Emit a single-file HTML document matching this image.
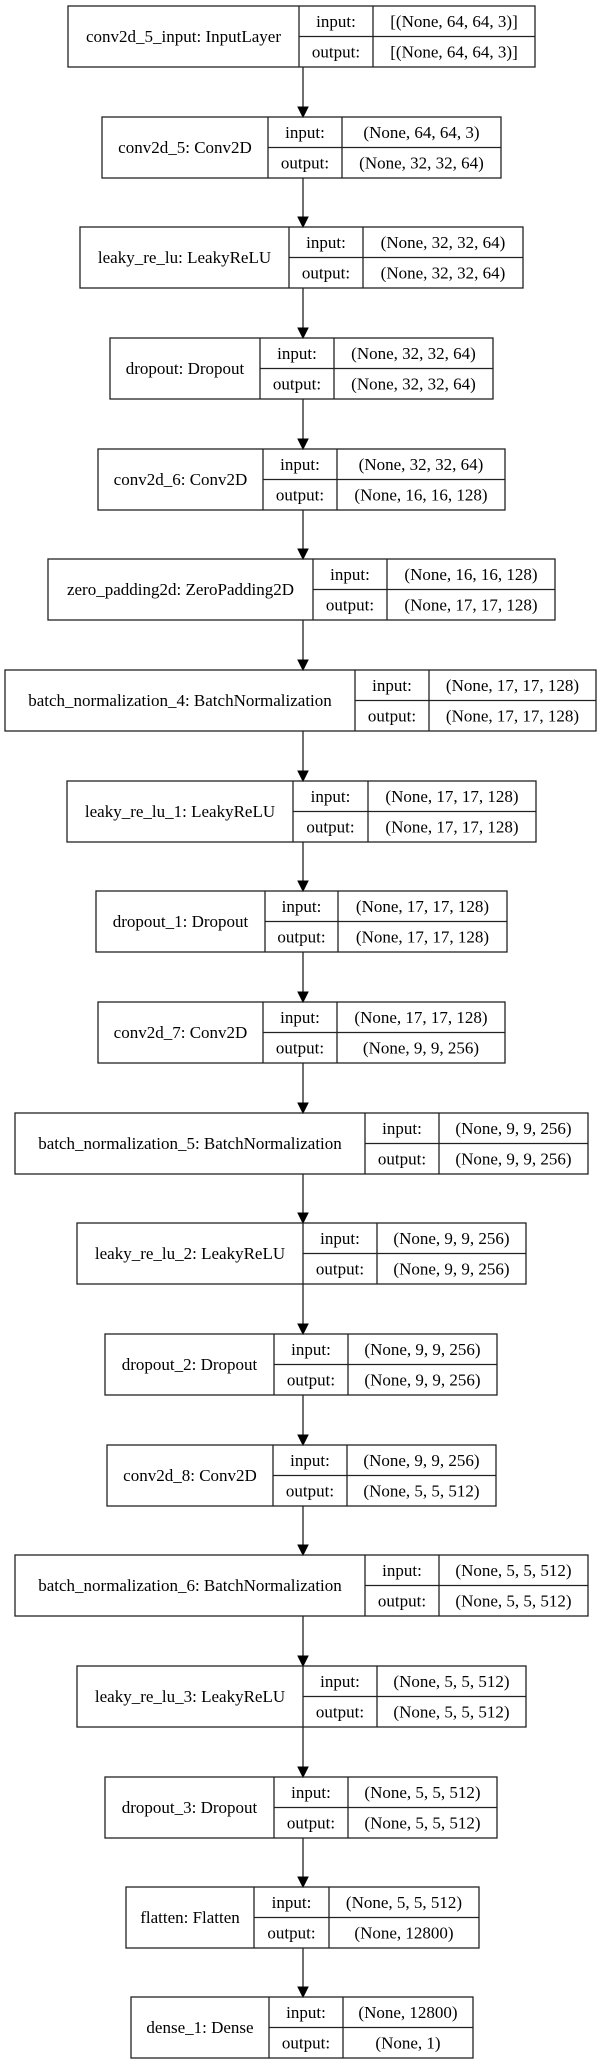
<!DOCTYPE html>
<html><head><meta charset="utf-8"><style>
html,body{margin:0;padding:0;background:#fff;}
svg{display:block}
text{font-family:"Liberation Serif",serif;font-size:17px;fill:#000;text-anchor:middle}
rect,line{stroke:#222;stroke-width:1.3;fill:none}
polygon{fill:#000;stroke:#000;stroke-width:1}
</style></head><body>
<svg width="597" height="2065" viewBox="0 0 597 2065" xmlns="http://www.w3.org/2000/svg">
<rect x="0" y="0" width="597" height="2065" style="fill:#fff;stroke:none"/>

<g>
<line x1="303" y1="67" x2="303" y2="108"/><polygon points="298,107 308,107 303,117"/>
<line x1="303" y1="178" x2="303" y2="218"/><polygon points="298,217 308,217 303,227"/>
<line x1="303" y1="288" x2="303" y2="329"/><polygon points="298,328 308,328 303,338"/>
<line x1="303" y1="399" x2="303" y2="440"/><polygon points="298,439 308,439 303,449"/>
<line x1="303" y1="510" x2="303" y2="550"/><polygon points="298,549 308,549 303,559"/>
<line x1="303" y1="620" x2="303" y2="661"/><polygon points="298,660 308,660 303,670"/>
<line x1="303" y1="731" x2="303" y2="772"/><polygon points="298,771 308,771 303,781"/>
<line x1="303" y1="842" x2="303" y2="882"/><polygon points="298,881 308,881 303,891"/>
<line x1="303" y1="952" x2="303" y2="993"/><polygon points="298,992 308,992 303,1002"/>
<line x1="303" y1="1063" x2="303" y2="1104"/><polygon points="298,1103 308,1103 303,1113"/>
<line x1="303" y1="1174" x2="303" y2="1214"/><polygon points="298,1213 308,1213 303,1223"/>
<line x1="303" y1="1284" x2="303" y2="1325"/><polygon points="298,1324 308,1324 303,1334"/>
<line x1="303" y1="1395" x2="303" y2="1436"/><polygon points="298,1435 308,1435 303,1445"/>
<line x1="303" y1="1506" x2="303" y2="1546"/><polygon points="298,1545 308,1545 303,1555"/>
<line x1="303" y1="1616" x2="303" y2="1657"/><polygon points="298,1656 308,1656 303,1666"/>
<line x1="303" y1="1727" x2="303" y2="1768"/><polygon points="298,1767 308,1767 303,1777"/>
<line x1="303" y1="1838" x2="303" y2="1878"/><polygon points="298,1877 308,1877 303,1887"/>
<line x1="303" y1="1948" x2="303" y2="1988"/><polygon points="298,1987 308,1987 303,1997"/>
</g>

<g transform="translate(0,6)">
<rect x="68" y="0" width="467" height="61"/><line x1="299" y1="0" x2="299" y2="61"/><line x1="373" y1="0" x2="373" y2="61"/><line x1="299" y1="30.5" x2="535" y2="30.5"/>
<text x="183.5" y="36">conv2d_5_input: InputLayer</text><text x="336" y="21">input:</text><text x="336" y="51.5">output:</text>
<text x="454" y="21">[(None, 64, 64, 3)]</text><text x="454" y="51.5">[(None, 64, 64, 3)]</text></g>

<g transform="translate(0,117)">
<rect x="102" y="0" width="399" height="61"/><line x1="268" y1="0" x2="268" y2="61"/><line x1="342" y1="0" x2="342" y2="61"/><line x1="268" y1="30.5" x2="501" y2="30.5"/>
<text x="185" y="36">conv2d_5: Conv2D</text><text x="305" y="21">input:</text><text x="305" y="51.5">output:</text>
<text x="421.5" y="21">(None, 64, 64, 3)</text><text x="421.5" y="51.5">(None, 32, 32, 64)</text></g>

<g transform="translate(0,227)">
<rect x="80" y="0" width="443" height="61"/><line x1="289" y1="0" x2="289" y2="61"/><line x1="363" y1="0" x2="363" y2="61"/><line x1="289" y1="30.5" x2="523" y2="30.5"/>
<text x="184.5" y="36">leaky_re_lu: LeakyReLU</text><text x="326" y="21">input:</text><text x="326" y="51.5">output:</text>
<text x="443" y="21">(None, 32, 32, 64)</text><text x="443" y="51.5">(None, 32, 32, 64)</text></g>

<g transform="translate(0,338)">
<rect x="110" y="0" width="383" height="61"/><line x1="260" y1="0" x2="260" y2="61"/><line x1="334" y1="0" x2="334" y2="61"/><line x1="260" y1="30.5" x2="493" y2="30.5"/>
<text x="185" y="36">dropout: Dropout</text><text x="297" y="21">input:</text><text x="297" y="51.5">output:</text>
<text x="413.5" y="21">(None, 32, 32, 64)</text><text x="413.5" y="51.5">(None, 32, 32, 64)</text></g>

<g transform="translate(0,449)">
<rect x="98" y="0" width="407" height="61"/><line x1="263" y1="0" x2="263" y2="61"/><line x1="337" y1="0" x2="337" y2="61"/><line x1="263" y1="30.5" x2="505" y2="30.5"/>
<text x="180.5" y="36">conv2d_6: Conv2D</text><text x="300" y="21">input:</text><text x="300" y="51.5">output:</text>
<text x="421" y="21">(None, 32, 32, 64)</text><text x="421" y="51.5">(None, 16, 16, 128)</text></g>

<g transform="translate(0,559)">
<rect x="48" y="0" width="507" height="61"/><line x1="313" y1="0" x2="313" y2="61"/><line x1="387" y1="0" x2="387" y2="61"/><line x1="313" y1="30.5" x2="555" y2="30.5"/>
<text x="180.5" y="36">zero_padding2d: ZeroPadding2D</text><text x="350" y="21">input:</text><text x="350" y="51.5">output:</text>
<text x="471" y="21">(None, 16, 16, 128)</text><text x="471" y="51.5">(None, 17, 17, 128)</text></g>

<g transform="translate(0,670)">
<rect x="5" y="0" width="591" height="61"/><line x1="355" y1="0" x2="355" y2="61"/><line x1="429" y1="0" x2="429" y2="61"/><line x1="355" y1="30.5" x2="596" y2="30.5"/>
<text x="180" y="36">batch_normalization_4: BatchNormalization</text><text x="392" y="21">input:</text><text x="392" y="51.5">output:</text>
<text x="512.5" y="21">(None, 17, 17, 128)</text><text x="512.5" y="51.5">(None, 17, 17, 128)</text></g>

<g transform="translate(0,781)">
<rect x="67" y="0" width="469" height="61"/><line x1="293" y1="0" x2="293" y2="61"/><line x1="368" y1="0" x2="368" y2="61"/><line x1="293" y1="30.5" x2="536" y2="30.5"/>
<text x="180" y="36">leaky_re_lu_1: LeakyReLU</text><text x="330.5" y="21">input:</text><text x="330.5" y="51.5">output:</text>
<text x="452" y="21">(None, 17, 17, 128)</text><text x="452" y="51.5">(None, 17, 17, 128)</text></g>

<g transform="translate(0,891)">
<rect x="96" y="0" width="411" height="61"/><line x1="265" y1="0" x2="265" y2="61"/><line x1="338" y1="0" x2="338" y2="61"/><line x1="265" y1="30.5" x2="507" y2="30.5"/>
<text x="180.5" y="36">dropout_1: Dropout</text><text x="301.5" y="21">input:</text><text x="301.5" y="51.5">output:</text>
<text x="422.5" y="21">(None, 17, 17, 128)</text><text x="422.5" y="51.5">(None, 17, 17, 128)</text></g>

<g transform="translate(0,1002)">
<rect x="98" y="0" width="407" height="61"/><line x1="263" y1="0" x2="263" y2="61"/><line x1="337" y1="0" x2="337" y2="61"/><line x1="263" y1="30.5" x2="505" y2="30.5"/>
<text x="180.5" y="36">conv2d_7: Conv2D</text><text x="300" y="21">input:</text><text x="300" y="51.5">output:</text>
<text x="421" y="21">(None, 17, 17, 128)</text><text x="421" y="51.5">(None, 9, 9, 256)</text></g>

<g transform="translate(0,1113)">
<rect x="15" y="0" width="573" height="61"/><line x1="365" y1="0" x2="365" y2="61"/><line x1="439" y1="0" x2="439" y2="61"/><line x1="365" y1="30.5" x2="588" y2="30.5"/>
<text x="190" y="36">batch_normalization_5: BatchNormalization</text><text x="402" y="21">input:</text><text x="402" y="51.5">output:</text>
<text x="513.5" y="21">(None, 9, 9, 256)</text><text x="513.5" y="51.5">(None, 9, 9, 256)</text></g>

<g transform="translate(0,1223)">
<rect x="77" y="0" width="449" height="61"/><line x1="303" y1="0" x2="303" y2="61"/><line x1="377" y1="0" x2="377" y2="61"/><line x1="303" y1="30.5" x2="526" y2="30.5"/>
<text x="190" y="36">leaky_re_lu_2: LeakyReLU</text><text x="340" y="21">input:</text><text x="340" y="51.5">output:</text>
<text x="451.5" y="21">(None, 9, 9, 256)</text><text x="451.5" y="51.5">(None, 9, 9, 256)</text></g>

<g transform="translate(0,1334)">
<rect x="105" y="0" width="392" height="61"/><line x1="274" y1="0" x2="274" y2="61"/><line x1="348" y1="0" x2="348" y2="61"/><line x1="274" y1="30.5" x2="497" y2="30.5"/>
<text x="189.5" y="36">dropout_2: Dropout</text><text x="311" y="21">input:</text><text x="311" y="51.5">output:</text>
<text x="422.5" y="21">(None, 9, 9, 256)</text><text x="422.5" y="51.5">(None, 9, 9, 256)</text></g>

<g transform="translate(0,1445)">
<rect x="107" y="0" width="389" height="61"/><line x1="273" y1="0" x2="273" y2="61"/><line x1="347" y1="0" x2="347" y2="61"/><line x1="273" y1="30.5" x2="496" y2="30.5"/>
<text x="190" y="36">conv2d_8: Conv2D</text><text x="310" y="21">input:</text><text x="310" y="51.5">output:</text>
<text x="421.5" y="21">(None, 9, 9, 256)</text><text x="421.5" y="51.5">(None, 5, 5, 512)</text></g>

<g transform="translate(0,1555)">
<rect x="15" y="0" width="573" height="61"/><line x1="365" y1="0" x2="365" y2="61"/><line x1="439" y1="0" x2="439" y2="61"/><line x1="365" y1="30.5" x2="588" y2="30.5"/>
<text x="190" y="36">batch_normalization_6: BatchNormalization</text><text x="402" y="21">input:</text><text x="402" y="51.5">output:</text>
<text x="513.5" y="21">(None, 5, 5, 512)</text><text x="513.5" y="51.5">(None, 5, 5, 512)</text></g>

<g transform="translate(0,1666)">
<rect x="77" y="0" width="449" height="61"/><line x1="303" y1="0" x2="303" y2="61"/><line x1="377" y1="0" x2="377" y2="61"/><line x1="303" y1="30.5" x2="526" y2="30.5"/>
<text x="190" y="36">leaky_re_lu_3: LeakyReLU</text><text x="340" y="21">input:</text><text x="340" y="51.5">output:</text>
<text x="451.5" y="21">(None, 5, 5, 512)</text><text x="451.5" y="51.5">(None, 5, 5, 512)</text></g>

<g transform="translate(0,1777)">
<rect x="105" y="0" width="392" height="61"/><line x1="274" y1="0" x2="274" y2="61"/><line x1="348" y1="0" x2="348" y2="61"/><line x1="274" y1="30.5" x2="497" y2="30.5"/>
<text x="189.5" y="36">dropout_3: Dropout</text><text x="311" y="21">input:</text><text x="311" y="51.5">output:</text>
<text x="422.5" y="21">(None, 5, 5, 512)</text><text x="422.5" y="51.5">(None, 5, 5, 512)</text></g>

<g transform="translate(0,1887)">
<rect x="126" y="0" width="353" height="61"/><line x1="254" y1="0" x2="254" y2="61"/><line x1="329" y1="0" x2="329" y2="61"/><line x1="254" y1="30.5" x2="479" y2="30.5"/>
<text x="190" y="36">flatten: Flatten</text><text x="291.5" y="21">input:</text><text x="291.5" y="51.5">output:</text>
<text x="404" y="21">(None, 5, 5, 512)</text><text x="404" y="51.5">(None, 12800)</text></g>

<g transform="translate(0,1997)">
<rect x="131" y="0" width="342" height="61"/><line x1="269" y1="0" x2="269" y2="61"/><line x1="343" y1="0" x2="343" y2="61"/><line x1="269" y1="30.5" x2="473" y2="30.5"/>
<text x="200" y="36">dense_1: Dense</text><text x="306" y="21">input:</text><text x="306" y="51.5">output:</text>
<text x="408" y="21">(None, 12800)</text><text x="408" y="51.5">(None, 1)</text></g>
</svg>
</body></html>
